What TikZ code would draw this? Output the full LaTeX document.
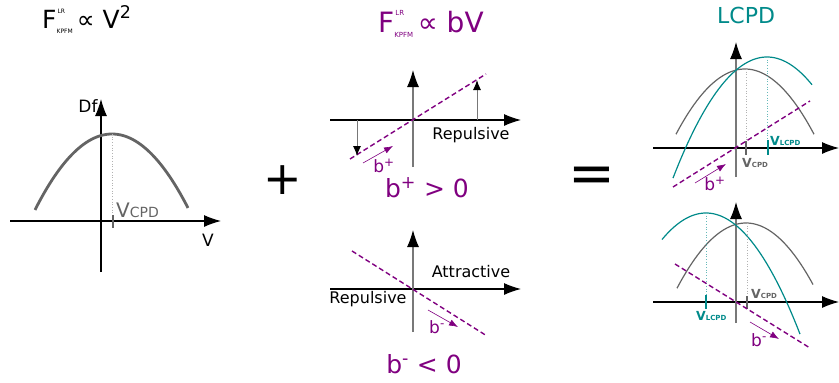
\documentclass[tikz,border=0pt]{standalone}
\usepackage{fontspec}
\setmainfont{DejaVu Sans}
\usetikzlibrary{arrows.meta}
\definecolor{pur}{RGB}{128,0,128}
\definecolor{tealc}{RGB}{0,138,138}
\definecolor{gcurve}{RGB}{100,100,100}
\definecolor{axgray}{RGB}{120,120,120}
\newcommand{\fsz}[1]{\fontsize{#1}{#1}\selectfont}
\tikzset{
  bigaxis/.style={line width=1.1pt, -{Latex[length=17pt,width=12pt]}},
  vaxis/.style={draw=axgray, line width=1.1pt, -{Latex[length=17pt,width=12pt,color=black]}},
  smallarr/.style={draw=axgray, line width=1pt, -{Latex[length=10pt,width=8pt,color=black]}},
  bline/.style={draw=pur, line width=1.4pt, dash pattern=on 5pt off 3pt},
  barr/.style={draw=pur, line width=0.6pt, -{Latex[length=9pt,width=6.5pt]}},
  dotv/.style={draw=gray!60, line width=0.7pt, dotted},
  dotvt/.style={draw=tealc!60, line width=0.7pt, dotted},
  lbl/.style={inner sep=0pt, font=\fsz{16}},
}
\begin{document}
\begin{tikzpicture}[x=1pt,y=-1pt]
\useasboundingbox (0,0) rectangle (839,383);
% ---------- Panel 1 ----------
\node[anchor=base west, inner sep=0pt] (t1) at (42,28) {\fsz{25}F\makebox[0pt][l]{\raisebox{15pt}{\fsz{6}\,LR}}\raisebox{-5pt}{\fsz{6}KPFM}\,∝ V\textsuperscript{2}};
\coordinate (h1l) at (10,221); \coordinate (h1r) at (221,221);
\coordinate (v1b) at (101,272); \coordinate (v1t) at (101,99);
\draw[bigaxis] (h1l) -- (h1r);
\draw[bigaxis] (v1b) -- (v1t);
\draw[gcurve, line width=2.8pt] plot[domain=35:188, samples=80] (\x,{134+0.0128*(\x-112)^2});
\coordinate (p1) at (112,134); \coordinate (p1b) at (112,221);
\draw[dotv] (p1) -- (p1b);
\coordinate (k1a) at (113,215); \coordinate (k1b) at (113,228);
\draw[gcurve, line width=1.5pt] (k1a) -- (k1b);
\node[lbl, anchor=base west, text=gcurve] (vcpd1) at (116,217) {\fsz{20}V\fsz{14}CPD};
\node[lbl] (df) at (88,106) {\fsz{17}Df};
\node[lbl] (vv) at (208,240) {\fsz{17}V};
% ---------- plus / equals ----------
\node[inner sep=0pt] (plus) at (283,180) {\fsz{46}+};
\node[inner sep=0pt] (eq) at (592,180) {\fsz{56}=};
% ---------- Panel 2 ----------
\node[anchor=base west, inner sep=0pt, text=pur] (t2) at (378,32) {\fsz{28}F\makebox[0pt][l]{\raisebox{17pt}{\fsz{7}\,LR}}\raisebox{-5pt}{\fsz{7}KPFM}\,∝ bV};
\coordinate (h2l) at (330,120); \coordinate (h2r) at (521,120);
\coordinate (v2b) at (413,167); \coordinate (v2t) at (413,70);
\draw[bigaxis] (h2l) -- (h2r);
\draw[vaxis] (v2b) -- (v2t);
\coordinate (d2a) at (350,159); \coordinate (d2b) at (486,74);
\draw[bline] (d2a) -- (d2b);
\coordinate (a2a) at (357,120); \coordinate (a2b) at (357,156);
\draw[smallarr] (a2a) -- (a2b);
\coordinate (a2c) at (477,120); \coordinate (a2d) at (477,80);
\draw[smallarr] (a2c) -- (a2d);
\coordinate (s2a) at (363,163); \coordinate (s2b) at (393,146);
\draw[barr] (s2a) -- (s2b);
\node[lbl, text=pur] (bp2) at (384,166) {\fsz{17}b\textsuperscript{+}};
\node[lbl] (rep2) at (471,135) {Repulsive};
\node[lbl, text=pur] (cond1) at (427,188) {\fsz{25}b\textsuperscript{+} > 0};
% ---------- Panel 3 ----------
\coordinate (h3l) at (330,289); \coordinate (h3r) at (521,289);
\coordinate (v3b) at (413,332); \coordinate (v3t) at (413,230);
\draw[bigaxis] (h3l) -- (h3r);
\draw[vaxis] (v3b) -- (v3t);
\coordinate (d3a) at (352,251); \coordinate (d3b) at (487,336);
\draw[bline] (d3a) -- (d3b);
\coordinate (s3a) at (428,310); \coordinate (s3b) at (458,327);
\draw[barr] (s3a) -- (s3b);
\node[lbl, text=pur] (bm3) at (437,327) {\fsz{17}b\textsuperscript{-}};
\node[lbl] (att3) at (471,272) {Attractive};
\node[lbl] (rep3) at (368,299) {Repulsive};
\node[lbl, text=pur] (cond2) at (424,364) {\fsz{25}b\textsuperscript{-} < 0};
% ---------- Panel 4 ----------
\node[anchor=base west, inner sep=0pt, text=tealc] (t4) at (717,23) {\fsz{22}LCPD};
\coordinate (h4l) at (653,148); \coordinate (h4r) at (839,148);
\coordinate (v4b) at (736,177); \coordinate (v4t) at (736,42);
\draw[bigaxis] (h4l) -- (h4r);
\draw[vaxis] (v4b) -- (v4t);
\draw[gcurve, line width=1.2pt] plot[domain=676:814, samples=80] (\x,{69+0.0137*(\x-745)^2});
\draw[tealc, line width=1.2pt] plot[domain=673:812, samples=80] (\x,{57+0.0137*(\x-767)^2});
\coordinate (p4g) at (746,69); \coordinate (p4gb) at (746,148);
\coordinate (p4t) at (767,57); \coordinate (p4tb) at (767,148);
\draw[dotv] (p4g) -- (p4gb);
\draw[dotvt] (p4t) -- (p4tb);
\coordinate (k4a) at (746,141); \coordinate (k4b) at (746,155);
\draw[gcurve, line width=1.2pt] (k4a) -- (k4b);
\coordinate (k4c) at (768,140); \coordinate (k4d) at (768,155);
\draw[tealc, line width=1.2pt] (k4c) -- (k4d);
\coordinate (d4a) at (673,187); \coordinate (d4b) at (810,101);
\draw[bline] (d4a) -- (d4b);
\coordinate (s4a) at (695,183); \coordinate (s4b) at (726,164);
\draw[barr] (s4a) -- (s4b);
\node[lbl, text=pur] (bp4) at (715,184) {\fsz{17}b\textsuperscript{+}};
\node[lbl, anchor=base west, text=tealc] (vl4) at (770,145) {\bfseries\fsz{12.5}V\fsz{7}LCPD};
\node[lbl, anchor=base west, text=gcurve] (vc4) at (742,167) {\bfseries\fsz{12.5}V\fsz{7}CPD};
% ---------- Panel 5 ----------
\coordinate (h5l) at (653,302); \coordinate (h5r) at (839,302);
\coordinate (v5b) at (736,323); \coordinate (v5t) at (736,202);
\draw[bigaxis] (h5l) -- (h5r);
\draw[vaxis] (v5b) -- (v5t);
\draw[gcurve, line width=1.2pt] plot[domain=677:813, samples=80] (\x,{223+0.0137*(\x-746)^2});
\draw[tealc, line width=1.2pt] plot[domain=662:800, samples=80] (\x,{213+0.0137*(\x-706)^2});
\coordinate (p5g) at (747,223); \coordinate (p5gb) at (747,302);
\coordinate (p5t) at (706,213); \coordinate (p5tb) at (706,302);
\draw[dotv] (p5g) -- (p5gb);
\draw[dotvt] (p5t) -- (p5tb);
\coordinate (k5a) at (747,296); \coordinate (k5b) at (747,309);
\draw[gcurve, line width=1.2pt] (k5a) -- (k5b);
\coordinate (k5c) at (706,295); \coordinate (k5d) at (706,309);
\draw[tealc, line width=1.2pt] (k5c) -- (k5d);
\coordinate (d5a) at (675,264); \coordinate (d5b) at (810,348);
\draw[bline] (d5a) -- (d5b);
\coordinate (s5a) at (750,322); \coordinate (s5b) at (779,339);
\draw[barr] (s5a) -- (s5b);
\node[lbl, text=pur] (bm5) at (759,340) {\fsz{17}b\textsuperscript{-}};
\node[lbl, anchor=base west, text=tealc] (vl5) at (696,320) {\bfseries\fsz{12.5}V\fsz{7}LCPD};
\node[lbl, anchor=base west, text=gcurve] (vc5) at (751,298) {\bfseries\fsz{12.5}V\fsz{7}CPD};
\end{tikzpicture}
\end{document}
